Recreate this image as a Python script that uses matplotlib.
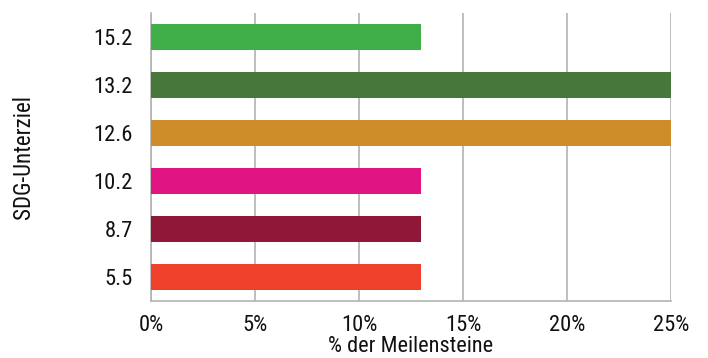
import matplotlib
matplotlib.use("Agg")
import matplotlib.pyplot as plt
from matplotlib import font_manager

# SDG sub-targets and share of milestones (%)
targets = ["5.5", "8.7", "10.2", "12.6", "13.2", "15.2"]
shares = [13, 13, 13, 25, 25, 13]
colors = ["#EF402C", "#8F1838", "#E11484", "#CF8D2A", "#48773C", "#40AF4A"]
xticks = [0, 5, 10, 15, 20, 25]
xticklabels = ["0%", "5%", "10%", "15%", "20%", "25%"]

names = {f.name for f in font_manager.fontManager.ttflist}
family = "DejaVu Sans"
for cand in ["Liberation Sans Narrow", "Roboto Condensed", "Open Sans Condensed", "Liberation Sans"]:
    if cand in names:
        family = cand
        break
plt.rcParams["font.family"] = family
if family == "DejaVu Sans":
    plt.rcParams["font.stretch"] = "condensed"

fig = plt.figure(figsize=(7.08, 3.58), dpi=100)
ax = fig.add_axes([151 / 708, 1 - 301 / 358, 520 / 708, 288 / 358])

ypos = list(range(len(targets)))
ax.barh(ypos, shares, height=0.56, color=colors, zorder=3)

ax.set_xlim(0, 25)
ax.set_ylim(-0.5, len(targets) - 0.5)
ax.set_xticks(xticks)
ax.set_xticklabels(xticklabels)
ax.set_yticks(ypos)
ax.set_yticklabels(targets)
ax.tick_params(axis="both", length=0, labelsize=16.2, colors="#111111")
ax.tick_params(axis="x", pad=10)
ax.tick_params(axis="y", pad=13)

ax.grid(axis="x", color="#b3b3b3", linewidth=1.2, zorder=0)
for s in ["top", "right"]:
    ax.spines[s].set_visible(False)
for s in ["left", "bottom"]:
    ax.spines[s].set_color("#b3b3b3")
    ax.spines[s].set_linewidth(1.2)

ax.set_xlabel("% der Meilensteine", fontsize=16, color="#111111", labelpad=0)
ax.set_ylabel("SDG-Unterziel", fontsize=16.5, color="#111111", labelpad=42)

fig.savefig("out.png", dpi=100)
